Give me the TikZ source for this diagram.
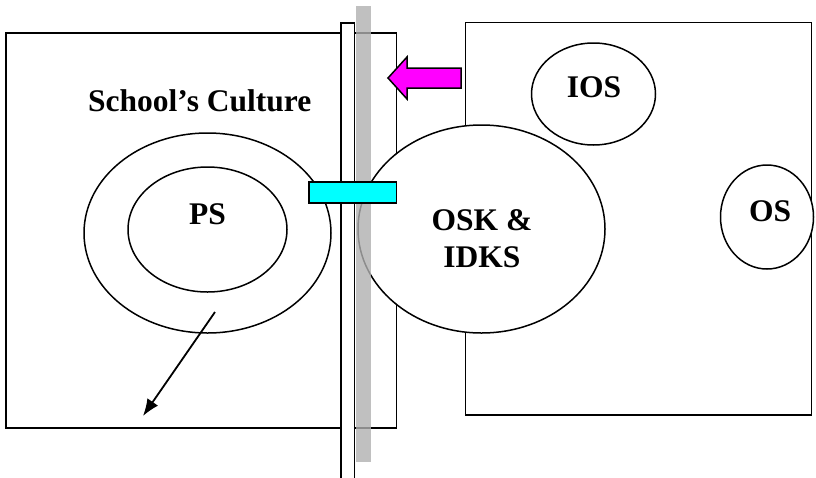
\documentclass[tikz,border=0pt]{standalone}
\usepackage{fontspec}
\setmainfont{Liberation Serif}
\usetikzlibrary{shapes.geometric,arrows.meta}
\definecolor{barGray}{RGB}{176,176,176}
\definecolor{cyanBox}{RGB}{0,255,255}
\definecolor{magArrow}{RGB}{255,0,255}
\begin{document}
\begin{tikzpicture}[x=1pt,y=-1pt,
  box/.style={draw=black,line width=1.8pt},
  oval/.style={draw=black,line width=1.5pt,ellipse,inner sep=0pt,fill=white},
  lbl/.style={font=\fontsize{31.5}{37}\selectfont\bfseries,inner sep=0pt,anchor=base},
  ptr/.style={draw=black,line width=1.8pt,-{Latex[length=17pt,width=13pt]}}]
\useasboundingbox (0,0) rectangle (816,477);
% rectangles
\draw[box] (6,33) rectangle (396.5,428) coordinate (lrBR);
\draw[box] (465.5,22.5) rectangle (811.5,415) coordinate (rrBR);
% left ellipses
\node[oval,minimum width=247pt,minimum height=200pt] (culture) at (207.5,233) {};
\node[oval,minimum width=159pt,minimum height=125pt] (ps) at (207.5,229.5) {};
% arrow out of culture
\coordinate (arrS) at (215,312);
\coordinate (arrE) at (143,416);
\draw[ptr] (arrS) -- (arrE);
% big ellipse
\node[oval,minimum width=247pt,minimum height=208pt] (osk) at (481.5,229) {};
% IOS and OS
\node[oval,minimum width=124pt,minimum height=102pt] (ios) at (593.5,94) {};
\node[oval,minimum width=93pt,minimum height=104pt] (os) at (767,217) {};
% white bar
\draw[fill=white,draw=black,line width=1.5pt] (341,23) rectangle (354.3,480);
% gray bar
\fill[barGray,opacity=0.8] (356,6) rectangle (370.7,462);
% cyan box
\draw[fill=cyanBox,draw=black,line width=1.5pt] (309,182) rectangle (396.5,203);
% magenta arrow
\draw[fill=magArrow,draw=black,line width=1.5pt]
  (388,78) -- (407,57) -- (407,68) -- (461,68) -- (461,88) -- (407,88) -- (407,99) -- cycle;
% labels
\node[lbl,anchor=base west] (tcult) at (88,111) {School’s Culture};
\node[lbl] (tps) at (207.5,224) {PS};
\node[lbl] (tosk) at (482,230) {OSK \&};
\node[lbl] (tidks) at (482,267) {IDKS};
\node[lbl] (tios) at (594,97) {IOS};
\node[lbl] (tos) at (770,221) {OS};
\end{tikzpicture}
\end{document}
